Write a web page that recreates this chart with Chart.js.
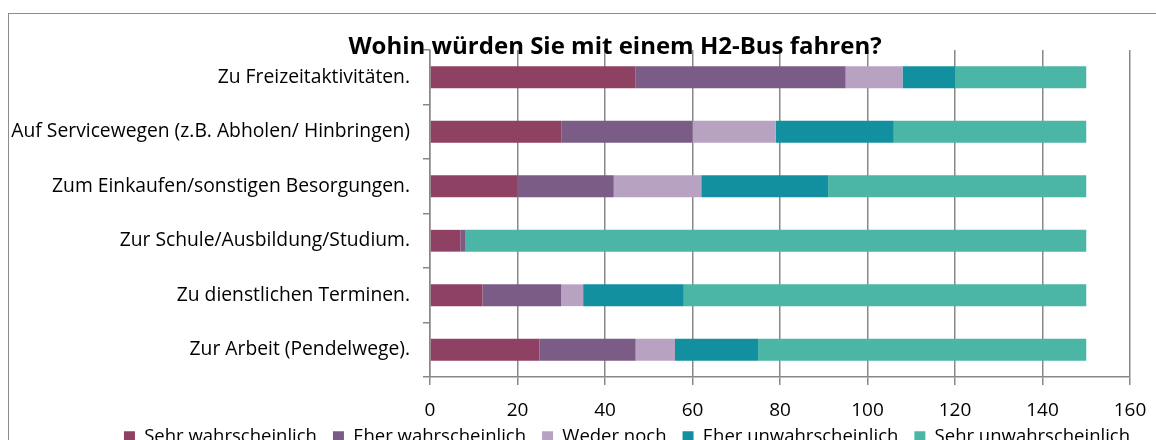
<!DOCTYPE html>
<html>
<head>
<meta charset="utf-8">
<script src="https://cdn.jsdelivr.net/npm/chart.js@4.4.1/dist/chart.umd.min.js"></script>
<style>
  html,body{margin:0;padding:0;background:#fff;overflow:hidden;width:1156px;height:440px}
  #frame{position:absolute;left:8px;top:13px;width:1200px;height:500px;border:1.5px solid #8c8c8c;box-sizing:border-box}
  #wrap{position:absolute;left:0;top:0;width:1156px;height:464px}
</style>
</head>
<body>
<div id="frame"></div>
<div id="wrap"><canvas id="chart"></canvas></div>
<script>
// Daten
const kategorien = [
  'Zu Freizeitaktivitäten.',
  'Auf Servicewegen (z.B. Abholen/ Hinbringen)',
  'Zum Einkaufen/sonstigen Besorgungen.',
  'Zur Schule/Ausbildung/Studium.',
  'Zu dienstlichen Terminen.',
  'Zur Arbeit (Pendelwege).'
];
const serien = ['Sehr wahrscheinlich','Eher wahrscheinlich','Weder noch','Eher unwahrscheinlich','Sehr unwahrscheinlich'];
const sehrWahr    = [47, 30, 20, 7, 12, 25];
const eherWahr    = [48, 30, 22, 1, 18, 22];
const wederNoch   = [13, 19, 20, 0, 5, 9];
const eherUnwahr  = [12, 27, 29, 0, 23, 19];
const sehrUnwahr  = [30, 44, 59, 142, 92, 75];
const xTicks = [0,20,40,60,80,100,120,140,160];
const titel = 'Wohin würden Sie mit einem H2-Bus fahren?';

const farben = ['#8e4162','#7a5c87','#b8a2c2','#1390a0','#4bb5a6'];
const werte = [sehrWahr, eherWahr, wederNoch, eherUnwahr, sehrUnwahr];
const FONT = '"Open Sans", sans-serif';

const titelPlugin = {
  id:'titelPlugin',
  afterDraw(chart){
    const c = chart.ctx;
    c.save();
    c.font = 'bold 24px ' + FONT;
    c.fillStyle = '#000';
    c.textAlign = 'center';
    c.textBaseline = 'middle';
    c.fillText(titel, 615, 47);
    c.restore();
  }
};

// Legende etwas nach rechts/oben schieben wie im Original
const legendeVerschieben = {
  id:'legendeVerschieben',
  afterLayout(chart){
    const l = chart.legend;
    l.left += 62; l.right += 62;
    l.top -= 8; l.bottom -= 8;
  }
};

new Chart(document.getElementById('chart'), {
  type:'bar',
  data:{
    labels:kategorien,
    datasets:serien.map((s,i)=>({
      label:s, data:werte[i], backgroundColor:farben[i], borderWidth:0,
      barPercentage:0.4, categoryPercentage:1
    }))
  },
  options:{
    indexAxis:'y',
    responsive:true, maintainAspectRatio:false, animation:false,
    layout:{ padding:{ top:50, left:0, right:26, bottom:0 } },
    plugins:{
      title:{ display:false },
      tooltip:{ enabled:false },
      legend:{
        position:'bottom',
        labels:{ boxWidth:11, boxHeight:11, padding:16, color:'#000', font:{ family:FONT, size:18.5 } }
      }
    },
    scales:{
      x:{
        stacked:true, min:0, max:160,
        afterBuildTicks(scale){ scale.ticks = xTicks.map(v=>({value:v})); },
        afterFit(scale){ scale.height = 42.5; scale.paddingLeft = 0; scale.paddingRight = 0; },
        grid:{ color:'#888', lineWidth:1.5, tickLength:8 },
        border:{ color:'#888', width:1.5 },
        ticks:{ color:'#000', padding:14, maxRotation:0, font:{ family:FONT, size:19 } }
      },
      y:{
        stacked:true,
        afterFit(scale){ scale.width = 430; },
        grid:{ drawOnChartArea:false, color:'#888', lineWidth:1.5, tickLength:7 },
        border:{ color:'#888', width:1.5 },
        ticks:{ color:'#000', padding:13, font:{ family:FONT, size:19.3 } }
      }
    }
  },
  plugins:[titelPlugin, legendeVerschieben]
});
</script>
</body>
</html>
